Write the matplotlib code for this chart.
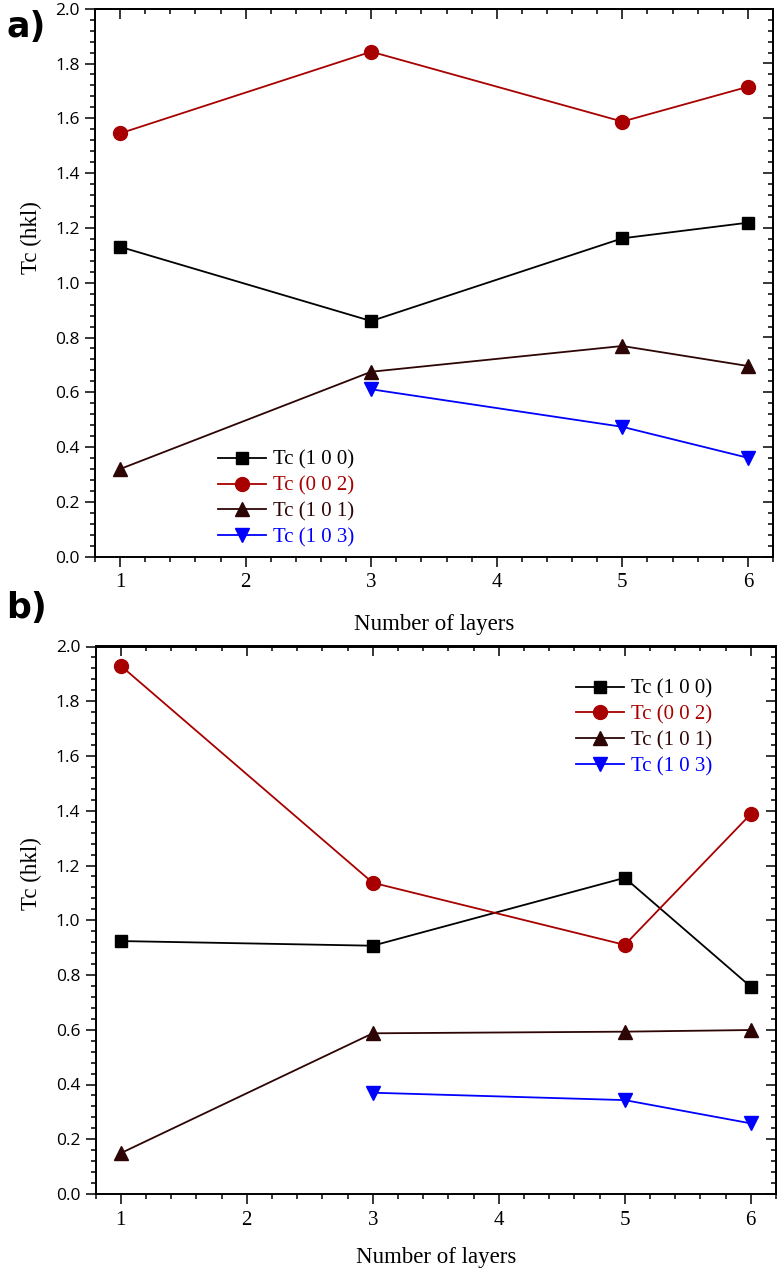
import matplotlib
matplotlib.use("Agg")
import matplotlib.pyplot as plt
from matplotlib.ticker import MultipleLocator

# ---------------- data ----------------
layers = [1, 3, 5, 6]
layers_103 = [3, 5, 6]

labels = ["Tc (1 0 0)", "Tc (0 0 2)", "Tc (1 0 1)", "Tc (1 0 3)"]

a_100 = [1.131, 0.860, 1.162, 1.219]
a_002 = [1.545, 1.843, 1.588, 1.715]
a_101 = [0.320, 0.675, 0.769, 0.696]
a_103 = [0.611, 0.474, 0.361]

b_100 = [0.924, 0.907, 1.155, 0.757]
b_002 = [1.930, 1.137, 0.910, 1.388]
b_101 = [0.149, 0.587, 0.593, 0.599]
b_103 = [0.370, 0.343, 0.258]

x_ticks = [1, 2, 3, 4, 5, 6]
y_ticks = [0.0, 0.2, 0.4, 0.6, 0.8, 1.0, 1.2, 1.4, 1.6, 1.8, 2.0]

xlabel = "Number of layers"
ylabel = "Tc (hkl)"

# ---------------- style ----------------
colors = ["#000000", "#a80000", "#2e0505", "#0000ff"]
markers = ["s", "o", "^", "v"]
msizes = [8.5, 10, 10.5, 10.5]

W, H = 779, 1274
fig = plt.figure(figsize=(W / 100, H / 100), dpi=100)

serif = "Liberation Serif"
sans = "Open Sans"


def make_axes(l_px, r_px, t_px, b_px):
    return fig.add_axes([l_px / W, 1 - b_px / H, (r_px - l_px) / W, (b_px - t_px) / H])


def style(ax, ylab_y, xlab_y):
    ax.set_xlim(0.8, 6.2)
    ax.set_ylim(0.0, 2.0)
    ax.set_xticks(x_ticks)
    ax.set_yticks(y_ticks)
    ax.set_yticklabels([f"{v:.1f}" for v in y_ticks], fontfamily=sans, fontsize=12.5)
    ax.set_xticklabels([str(v) for v in x_ticks], fontfamily=serif, fontsize=15)
    ax.xaxis.set_minor_locator(MultipleLocator(0.2))
    ax.yaxis.set_minor_locator(MultipleLocator(0.04))
    ax.tick_params(which="major", direction="out", length=7, width=1.1)
    ax.tick_params(which="minor", direction="out", length=3.5, width=1.1)
    ax.tick_params(axis="x", which="major", pad=5)
    ax.tick_params(axis="y", which="major", pad=4)
    for sp in ax.spines.values():
        sp.set_linewidth(1.4)
    # top and right inward ticks
    top = ax.secondary_xaxis("top")
    top.set_xticks(x_ticks)
    top.xaxis.set_minor_locator(MultipleLocator(0.2))
    top.tick_params(which="major", direction="in", length=7, width=1.1, labeltop=False)
    top.tick_params(which="minor", direction="in", length=3.5, width=1.1)
    top.spines["top"].set_linewidth(1.4)
    right = ax.secondary_yaxis("right")
    right.set_yticks(y_ticks)
    right.yaxis.set_minor_locator(MultipleLocator(0.04))
    right.tick_params(which="major", direction="in", length=7, width=1.1, labelright=False)
    right.tick_params(which="minor", direction="in", length=3.5, width=1.1)
    right.spines["right"].set_linewidth(1.4)

    ax.set_xlabel(xlabel, fontfamily=serif, fontsize=16.5, va="top")
    ax.set_ylabel(ylabel, fontfamily=serif, fontsize=16.5)
    ax.xaxis.set_label_coords(0.5, xlab_y)
    ax.yaxis.set_label_coords(-0.078, ylab_y)


def plot_panel(ax, s100, s002, s101, s103, leg_anchor):
    series = [(layers, s100), (layers, s002), (layers, s101), (layers_103, s103)]
    for (xs, ys), c, m, ms, lab in zip(series, colors, markers, msizes, labels):
        ax.plot(xs, ys, color=c, marker=m, markersize=ms, linewidth=1.3,
                markerfacecolor=c, markeredgecolor=c, label=lab, clip_on=False)
    leg = ax.legend(loc="upper left", bbox_to_anchor=leg_anchor, frameon=False,
                    prop={"family": serif, "size": 15}, labelcolor="linecolor",
                    handlelength=2.3, handletextpad=0.35, labelspacing=0.3,
                    borderpad=0, borderaxespad=0, numpoints=1)
    return leg


ax_a = make_axes(95, 773, 8.7, 556.7)
ax_b = make_axes(95.5, 776, 646.5, 1194)

plot_panel(ax_a, a_100, a_002, a_101, a_103, (0.181, 0.194))
plot_panel(ax_b, b_100, b_002, b_101, b_103, (0.706, 0.940))

style(ax_a, 0.583, -0.105)
style(ax_b, 0.586, -0.097)

fig.text(6 / W, 1 - 27 / H, "a)", fontsize=25, fontweight="bold",
         fontfamily="DejaVu Sans", va="center", ha="left")
fig.text(6 / W, 1 - 608 / H, "b)", fontsize=25, fontweight="bold",
         fontfamily="DejaVu Sans", va="center", ha="left")

fig.savefig("out.png", dpi=100)
